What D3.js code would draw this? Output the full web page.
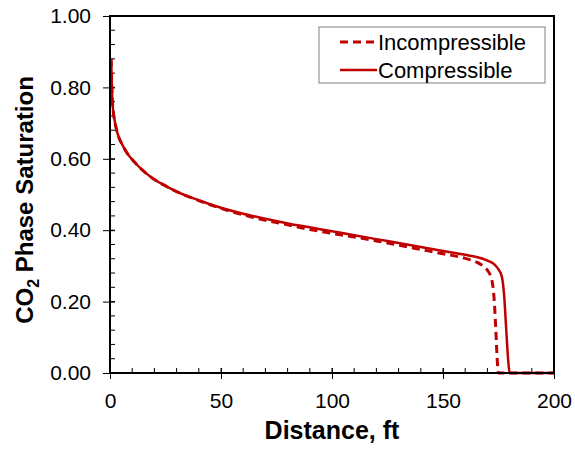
<!DOCTYPE html>
<html>
<head>
<meta charset="utf-8">
<script src="https://cdn.jsdelivr.net/npm/d3@7"></script>
<style>
  body { margin: 0; background: #fff; }
  text { font-family: "Liberation Sans", Arial, sans-serif; }
</style>
</head>
<body>
<svg width="575" height="450"></svg>
<script>
// data
var compDist = [0.5, 1, 1.5, 2, 3, 4, 6, 8, 10, 15, 20, 25, 30, 40, 50, 60, 70, 80, 90, 100,
                110, 120, 130, 140, 150, 160, 165, 170, 173, 175, 176.5, 177.5, 178.5, 179.3, 180, 200];
var compSat  = [0.88, 0.77, 0.73, 0.71, 0.68, 0.66, 0.634, 0.613, 0.598, 0.566, 0.542, 0.524, 0.508, 0.484, 0.463, 0.446, 0.432, 0.419, 0.408, 0.397,
                0.386, 0.375, 0.364, 0.353, 0.342, 0.331, 0.325, 0.315, 0.305, 0.29, 0.27, 0.22, 0.12, 0.04, 0, 0];

var incDist = [0.5, 1, 1.5, 2, 3, 4, 6, 8, 10, 15, 20, 25, 30, 40, 50, 60, 70, 80, 90, 100,
               110, 120, 130, 140, 150, 160, 165, 168, 170, 172, 173, 173.8, 174.4, 175, 200];
var incSat  = [0.88, 0.77, 0.73, 0.71, 0.68, 0.66, 0.634, 0.613, 0.598, 0.566, 0.542, 0.524, 0.508, 0.483, 0.461, 0.443, 0.428, 0.415, 0.402, 0.391,
               0.381, 0.37, 0.358, 0.346, 0.334, 0.321, 0.311, 0.30, 0.288, 0.26, 0.21, 0.12, 0.04, 0, 0];

var xTicks = [0, 50, 100, 150, 200];
var yTicks = [0, 0.2, 0.4, 0.6, 0.8, 1.0];
var seriesNames = ["Incompressible", "Compressible"];

var svg = d3.select("svg");
var margin = {left: 110, top: 16, right: 21, bottom: 77};
var width = 575 - margin.left - margin.right,
    height = 450 - margin.top - margin.bottom;
var red = "#C00000";

var x = d3.scaleLinear().domain([0, 200]).range([0, width]);
var y = d3.scaleLinear().domain([0, 1]).range([height, 0]);

var g = svg.append("g").attr("transform", "translate(" + margin.left + "," + margin.top + ")");

// minor ticks (inside)
g.selectAll(".xminor").data(d3.range(0, 201, 10)).enter().append("line")
    .attr("x1", function(d) { return x(d); }).attr("x2", function(d) { return x(d); })
    .attr("y1", height).attr("y2", height - 5)
    .attr("stroke", "#000").attr("stroke-width", 1);
g.selectAll(".yminor").data(d3.range(0, 1.0001, 0.04)).enter().append("line")
    .attr("y1", function(d) { return y(d); }).attr("y2", function(d) { return y(d); })
    .attr("x1", 0).attr("x2", 5)
    .attr("stroke", "#000").attr("stroke-width", 1);

// axes with crossing major ticks
var xAxis = g.append("g").attr("transform", "translate(0," + height + ")")
    .call(d3.axisBottom(x).tickValues(xTicks).tickSize(6).tickPadding(14).tickFormat(d3.format("d")));
xAxis.selectAll(".tick line").attr("y1", -5);
var yAxis = g.append("g")
    .call(d3.axisLeft(y).tickValues(yTicks).tickSize(7).tickPadding(12).tickFormat(d3.format(".2f")));
yAxis.selectAll(".tick line").attr("x1", 5);
[xAxis, yAxis].forEach(function(a) {
    a.select(".domain").remove();
    a.selectAll("text").attr("font-size", 21).attr("fill", "#000")
        .style("font-family", "Liberation Sans, Arial, sans-serif");
});

// curves
var line = d3.line()
    .x(function(d) { return x(d[0]); })
    .y(function(d) { return y(d[1]); })
    .curve(d3.curveMonotoneX);

g.append("path")
    .datum(d3.zip(incDist, incSat))
    .attr("d", line).attr("fill", "none")
    .attr("stroke", red).attr("stroke-width", 3).attr("stroke-dasharray", "8,5");
g.append("path")
    .datum(d3.zip(compDist, compSat))
    .attr("d", line).attr("fill", "none")
    .attr("stroke", red).attr("stroke-width", 2.5);

// frame
g.append("rect").attr("width", width).attr("height", height)
    .attr("fill", "none").attr("stroke", "#000").attr("stroke-width", 2);

// axis titles
svg.append("text").attr("x", margin.left + width / 2).attr("y", 439)
    .attr("text-anchor", "middle").attr("font-size", 25).attr("font-weight", "bold")
    .text("Distance, ft");
var yt = svg.append("text").attr("transform", "translate(33,200) rotate(-90)")
    .attr("text-anchor", "middle").attr("font-size", 24).attr("font-weight", "bold");
yt.append("tspan").text("CO");
yt.append("tspan").attr("font-size", 16).attr("dy", 6).text("2");
yt.append("tspan").attr("dy", -6).text(" Phase Saturation");

// legend
var lg = svg.append("g").attr("transform", "translate(319,27)");
lg.append("rect").attr("width", 226).attr("height", 56)
    .attr("fill", "#fff").attr("stroke", "#808080").attr("stroke-width", 1);
seriesNames.forEach(function(name, i) {
    var ly = 15 + i * 28;
    lg.append("line").attr("x1", 21).attr("x2", 58).attr("y1", ly).attr("y2", ly)
        .attr("stroke", red).attr("stroke-width", i === 0 ? 3 : 2.5)
        .attr("stroke-dasharray", i === 0 ? "8,5" : null);
    lg.append("text").attr("x", 59).attr("y", ly + 8).attr("font-size", 22).text(name);
});
</script>
</body>
</html>
